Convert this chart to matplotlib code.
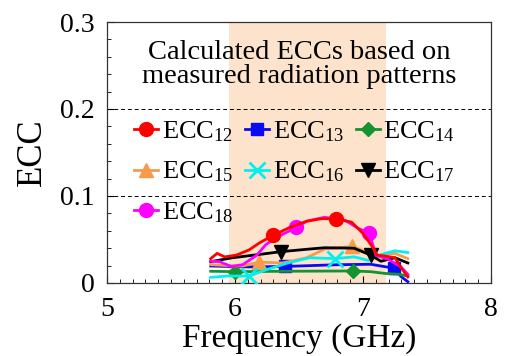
import matplotlib
matplotlib.use('Agg')
import matplotlib.pyplot as plt
from matplotlib.ticker import MultipleLocator, FixedFormatter, FixedLocator

plt.rcParams['font.family'] = ['Liberation Serif', 'DejaVu Serif']
plt.rcParams['mathtext.fontset'] = 'custom'
plt.rcParams['mathtext.rm'] = 'Liberation Serif'
plt.rcParams['mathtext.it'] = 'Liberation Serif:italic'

# ECC curves computed from the measured patterns (frequency in GHz)
f12 = [5.81, 5.86, 5.92, 6.01, 6.11, 6.19, 6.30, 6.43, 6.56, 6.68, 6.79, 6.91, 7.00, 7.08, 7.11, 7.17, 7.25, 7.30, 7.35]
ecc12 = [0.028, 0.034, 0.030, 0.032, 0.038, 0.046, 0.055, 0.064, 0.071, 0.074, 0.0735, 0.070, 0.057, 0.040, 0.032, 0.031, 0.029, 0.017, 0.007]
mk12 = [6, 10]

f13 = [5.81, 6.11, 6.39, 6.80, 7.06, 7.24, 7.30, 7.35]
ecc13 = [0.0195, 0.0185, 0.019, 0.021, 0.0215, 0.017, 0.007, 0.0015]
mk13 = [2, 5]

f14 = [5.81, 6.00, 6.40, 6.92, 7.06, 7.17, 7.28, 7.35]
ecc14 = [0.0135, 0.013, 0.0135, 0.0138, 0.013, 0.011, 0.010, 0.008]
mk14 = [1, 3]

f15 = [5.81, 5.95, 6.06, 6.19, 6.37, 6.56, 6.70, 6.91, 7.01, 7.11, 7.25, 7.35]
ecc15 = [0.021, 0.020, 0.0195, 0.024, 0.023, 0.029, 0.039, 0.042, 0.037, 0.032, 0.034, 0.028]
mk15 = [3, 7]

f16 = [5.81, 5.94, 6.11, 6.24, 6.40, 6.58, 6.78, 6.93, 7.04, 7.17, 7.25, 7.35]
ecc16 = [0.0065, 0.008, 0.008, 0.015, 0.0225, 0.029, 0.028, 0.030, 0.026, 0.034, 0.037, 0.035]
mk16 = [2, 6]

f17 = [5.81, 5.98, 6.20, 6.36, 6.58, 6.70, 6.93, 7.06, 7.14, 7.25, 7.35]
ecc17 = [0.0245, 0.029, 0.033, 0.036, 0.039, 0.0405, 0.040, 0.032, 0.025, 0.029, 0.023]
mk17 = [3, 7]

f18 = [5.81, 5.88, 5.97, 6.06, 6.17, 6.24, 6.32, 6.48, 6.56, 6.70, 6.86, 6.96, 7.05, 7.10, 7.20, 7.30, 7.35]
ecc18 = [0.025, 0.0245, 0.019, 0.021, 0.032, 0.044, 0.052, 0.064, 0.071, 0.0755, 0.072, 0.063, 0.057, 0.032, 0.027, 0.018, 0.010]
mk18 = [7, 12]

# operating band
band = [5.955, 7.18]

fig = plt.figure(figsize=(5.16, 3.56), dpi=100)
ax = fig.add_axes([0.2074, 0.2051, 0.7442, 0.7331])

ax.axvspan(band[0], band[1], color='#FDE3CB', lw=0, zorder=0)
ax.axhline(0.1, color='black', ls=(0, (4, 3)), lw=0.7, zorder=1)
ax.axhline(0.2, color='black', ls=(0, (4, 3)), lw=0.7, zorder=1)

lines = {}
lines['12'], = ax.plot(f12, ecc12, '-o', color='#FF0000', lw=2, ms=10, markevery=mk12, zorder=5)
lines['13'], = ax.plot(f13, ecc13, '-s', color='#0A0AF5', lw=2, ms=9, markevery=mk13, zorder=3)
lines['14'], = ax.plot(f14, ecc14, '-D', color='#149431', lw=2, ms=7, markevery=mk14, zorder=3)
lines['15'], = ax.plot(f15, ecc15, '-^', color='#F79A4B', lw=2, ms=10, markevery=mk15, zorder=3)
lines['16'], = ax.plot(f16, ecc16, '-x', color='#00F0F0', lw=2, ms=11, mew=2, markevery=mk16, zorder=3)
lines['17'], = ax.plot(f17, ecc17, '-v', color='#000000', lw=2, ms=10, markevery=mk17, zorder=4)
lines['18'], = ax.plot(f18, ecc18, '-o', color='#FF00FF', lw=2, ms=10, markevery=mk18, zorder=4)

ax.set_xlim(5, 8)
ax.set_ylim(0, 0.3)
ax.xaxis.set_major_locator(MultipleLocator(1))
ax.xaxis.set_minor_locator(MultipleLocator(0.1))
ax.yaxis.set_major_locator(FixedLocator([0, 0.1, 0.2, 0.3]))
ax.yaxis.set_major_formatter(FixedFormatter(['0', '0.1', '0.2', '0.3']))
ax.yaxis.set_minor_locator(MultipleLocator(0.02))
ax.tick_params(which='both', direction='in', labelsize=20)
ax.tick_params(which='major', length=5, width=0.8)
ax.tick_params(which='minor', length=3, width=0.6)
ax.tick_params(axis='x', pad=10)
ax.tick_params(axis='y', pad=9)
for s in ax.spines.values():
    s.set_linewidth(0.9)
    s.set_color('#333333')

ax.set_xlabel('Frequency (GHz)', fontsize=24, labelpad=1)
ax.set_ylabel('ECC', fontsize=25, labelpad=8)

ax.text(6.5, 0.251, 'Calculated ECCs based on\nmeasured radiation patterns',
        ha='center', va='center', fontsize=20.5, linespacing=0.95, zorder=6)

# column-major order so the legend reads row by row
order = ['12', '15', '18', '13', '16', '14', '17']
ax.legend([lines[k] for k in order], ['ECC$_{%s}$' % k for k in order],
          ncol=3, loc='upper left', bbox_to_anchor=(0.07, 0.627), frameon=False,
          fontsize=19, handlelength=0.9, handletextpad=0.15, columnspacing=0.45,
          labelspacing=0.6, borderpad=0, borderaxespad=0)

fig.savefig('out.png', dpi=100)
